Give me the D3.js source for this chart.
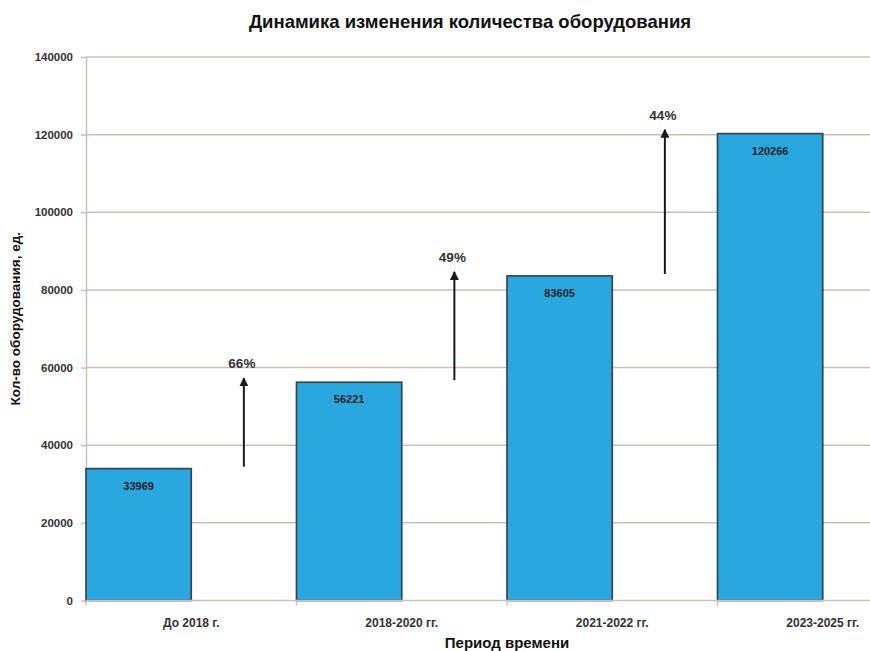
<!DOCTYPE html>
<html>
<head>
<meta charset="utf-8">
<script src="https://cdn.jsdelivr.net/npm/d3@7"></script>
<style>
  html, body { margin: 0; padding: 0; background: #fff; }
  svg { display: block; }
  text { font-family: "Liberation Sans", Arial, sans-serif; }
</style>
</head>
<body>
<svg id="chart" width="870" height="651"></svg>
<script>
// ---- data ----
const categories = ["До 2018 г.", "2018-2020 гг.", "2021-2022 гг.", "2023-2025 гг."];
const values = [33969, 56221, 83605, 120266];
const growthLabels = ["66%", "49%", "44%"];
const yTicks = [0, 20000, 40000, 60000, 80000, 100000, 120000, 140000];
const seriesSlots = ["value", "growth"];
const chartTitle = "Динамика изменения количества оборудования";
const xTitle = "Период времени";
const yTitle = "Кол-во оборудования, ед.";

// ---- layout ----
const svg = d3.select("#chart");
const plot = { left: 86, right: 928, top: 57, bottom: 600.5 };

const x = d3.scaleBand().domain(categories).range([plot.left, plot.right]).paddingInner(0).paddingOuter(0);
const xSub = d3.scaleBand().domain(seriesSlots).range([0, x.bandwidth()]).padding(0);
const y = d3.scaleLinear().domain([0, 140000]).range([plot.bottom, plot.top]);

const gridColor = "#c9c0bd";
const barColor = "#29a7df";
const font = "'Liberation Sans', Arial, sans-serif";

// gridlines
svg.append("g").selectAll("line").data(yTicks.filter(d => d > 0)).join("line")
  .attr("x1", plot.left).attr("x2", 870)
  .attr("y1", d => y(d)).attr("y2", d => y(d))
  .attr("stroke", gridColor).attr("stroke-width", 1.5);

// y axis
const yAxis = svg.append("g").attr("transform", `translate(${plot.left},0)`)
  .call(d3.axisLeft(y).tickValues(yTicks).tickFormat(d3.format("d")).tickSizeInner(5).tickSizeOuter(0).tickPadding(8));
yAxis.select(".domain").attr("stroke", gridColor).attr("stroke-width", 1.5);
yAxis.selectAll(".tick line").attr("stroke", gridColor).attr("stroke-width", 1.5);
yAxis.selectAll(".tick text").attr("font-size", 11.5).attr("fill", "#333").attr("font-weight", "bold")
  .style("font-family", font);

// bars
svg.append("g").selectAll("rect").data(values).join("rect")
  .attr("x", (d, i) => x(categories[i]) + xSub("value"))
  .attr("width", xSub.bandwidth())
  .attr("y", d => y(d))
  .attr("height", d => y(0) - y(d))
  .attr("fill", barColor)
  .attr("stroke", "#3a4450").attr("stroke-width", 1.7);

// x axis (category boundaries ticks)
const xAxisG = svg.append("g");
xAxisG.append("line").attr("x1", plot.left).attr("x2", 870)
  .attr("y1", y(0)).attr("y2", y(0)).attr("stroke", gridColor).attr("stroke-width", 1.5);
xAxisG.selectAll("line.tk").data(categories).join("line").attr("class", "tk")
  .attr("x1", d => x(d)).attr("x2", d => x(d))
  .attr("y1", y(0)).attr("y2", y(0) + 5)
  .attr("stroke", gridColor).attr("stroke-width", 1.5);
xAxisG.selectAll("text").data(categories).join("text")
  .attr("x", d => x(d) + x.bandwidth() / 2)
  .attr("y", y(0) + 26)
  .attr("text-anchor", "middle")
  .attr("font-size", 12).attr("font-weight", "bold").attr("fill", "#333")
  .style("font-family", font)
  .text(d => d);

// value labels
svg.append("g").selectAll("text").data(values).join("text")
  .attr("x", (d, i) => x(categories[i]) + xSub("value") + xSub.bandwidth() / 2)
  .attr("y", d => y(d) + 21)
  .attr("text-anchor", "middle")
  .attr("font-size", 11).attr("font-weight", "bold").attr("fill", "#222")
  .style("font-family", font)
  .text(d => d);

// growth arrows
const defs = svg.append("defs");
defs.append("marker").attr("id", "arrowHead")
  .attr("viewBox", "0 0 10 10").attr("refX", 9).attr("refY", 5)
  .attr("markerWidth", 4.5).attr("markerHeight", 4.5).attr("orient", "auto")
  .attr("markerUnits", "strokeWidth")
  .append("path").attr("d", "M0,0 L10,5 L0,10 Z").attr("fill", "#1a1a1a");

const growth = growthLabels.map((lbl, i) => ({ lbl, from: values[i], to: values[i + 1], cat: categories[i] }));
const gx = d => x(d.cat) + xSub("growth") + xSub.bandwidth() / 2;
svg.append("g").selectAll("line").data(growth).join("line")
  .attr("x1", gx).attr("x2", gx)
  .attr("y1", d => y(d.from) - 2).attr("y2", d => y(d.to) - 4)
  .attr("stroke", "#1a1a1a").attr("stroke-width", 2)
  .attr("marker-end", "url(#arrowHead)");
svg.append("g").selectAll("text").data(growth).join("text")
  .attr("x", d => gx(d) - 2)
  .attr("y", d => y(d.to) - 14)
  .attr("text-anchor", "middle")
  .attr("font-size", 13.5).attr("font-weight", "bold").attr("fill", "#333")
  .style("font-family", font)
  .text(d => d.lbl);

// titles
svg.append("text").attr("x", 470).attr("y", 28).attr("text-anchor", "middle")
  .attr("font-size", 18.5).attr("font-weight", "bold").attr("fill", "#111")
  .style("font-family", font)
  .text(chartTitle);
svg.append("text").attr("x", (plot.left + plot.right) / 2).attr("y", 648).attr("text-anchor", "middle")
  .attr("font-size", 15).attr("font-weight", "bold").attr("fill", "#111")
  .style("font-family", font)
  .text(xTitle);
svg.append("text").attr("transform", `translate(20,${(plot.top + plot.bottom) / 2 - 10}) rotate(-90)`)
  .attr("text-anchor", "middle")
  .attr("font-size", 13.5).attr("font-weight", "bold").attr("fill", "#111")
  .style("font-family", font)
  .text(yTitle);
</script>
</body>
</html>
